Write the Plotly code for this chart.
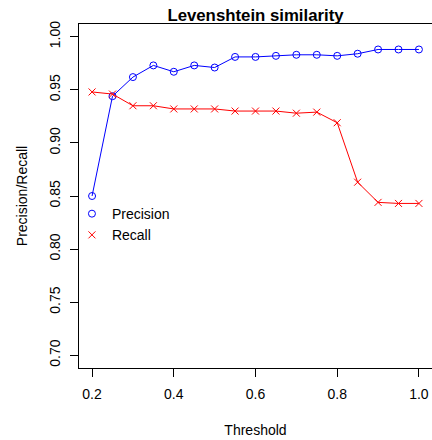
import plotly.graph_objects as go

threshold = [0.2, 0.25, 0.3, 0.35, 0.4, 0.45, 0.5, 0.55, 0.6, 0.65, 0.7, 0.75, 0.8, 0.85, 0.9, 0.95, 1.0]
precision = [0.850, 0.944, 0.962, 0.973, 0.967, 0.973, 0.971, 0.981, 0.981, 0.982, 0.983, 0.983, 0.982, 0.984, 0.988, 0.988, 0.988]
recall = [0.948, 0.946, 0.935, 0.935, 0.932, 0.932, 0.932, 0.930, 0.930, 0.930, 0.928, 0.929, 0.919, 0.863, 0.844, 0.843, 0.843]
x_ticks = [0.2, 0.4, 0.6, 0.8, 1.0]
x_tick_labels = ["0.2", "0.4", "0.6", "0.8", "1.0"]
y_ticks = [0.70, 0.75, 0.80, 0.85, 0.90, 0.95, 1.00]
y_tick_labels = ["0.70", "0.75", "0.80", "0.85", "0.90", "0.95", "1.00"]

FONT = "Liberation Sans, Arial, Helvetica, sans-serif"
BLUE = "#0000FF"
RED = "#FF0000"

fig = go.Figure()
fig.add_trace(go.Scatter(
    x=threshold, y=precision, mode="lines+markers", name="Precision", showlegend=False,
    line=dict(color=BLUE, width=1),
    marker=dict(symbol="circle-open", size=7, color=BLUE, line=dict(width=1, color=BLUE)),
))
fig.add_trace(go.Scatter(
    x=threshold, y=recall, mode="lines+markers", name="Recall", showlegend=False,
    line=dict(color=RED, width=1),
    marker=dict(symbol="x-thin-open", size=7, color=RED, line=dict(width=1, color=RED)),
))
# legend entries (symbols only, as in the reference)
fig.add_trace(go.Scatter(
    x=[None], y=[None], mode="markers", name="Precision",
    marker=dict(symbol="circle-open", size=7, color=BLUE, line=dict(width=1, color=BLUE)),
))
fig.add_trace(go.Scatter(
    x=[None], y=[None], mode="markers", name="Recall",
    marker=dict(symbol="x-thin-open", size=7, color=RED, line=dict(width=1, color=RED)),
))

fig.update_layout(
    width=432, height=440,
    margin=dict(l=79, r=0, t=24, b=72),
    paper_bgcolor="white", plot_bgcolor="white",
    font=dict(family=FONT, size=14, color="black"),
    title=dict(text="<b>Levenshtein similarity</b>", x=0.5915, xanchor="center",
               y=1 - 15 / 440, yanchor="middle", font=dict(size=16.8, family=FONT)),
    showlegend=True,
    legend=dict(x=-0.02, y=0.494, xanchor="left", yanchor="top",
                bgcolor="rgba(0,0,0,0)", font=dict(size=14, family=FONT),
                tracegroupgap=0),
)
fig.update_xaxes(
    range=[0.168, 1.032], tickvals=x_ticks, ticktext=x_tick_labels,
    showgrid=False, zeroline=False, showline=True, linecolor="black", linewidth=1,
    mirror=True, ticks="outside", ticklen=8, tickcolor="black", tickwidth=1,
    ticklabelstandoff=5,
    title=dict(text="Threshold", standoff=24, font=dict(size=14)),
)
fig.update_yaxes(
    range=[0.688, 1.012], tickvals=y_ticks, ticktext=y_tick_labels,
    showgrid=False, zeroline=False, showline=True, linecolor="black", linewidth=1,
    ticks="outside", ticklen=8, tickcolor="black", tickwidth=1, tickangle=-90,
    ticklabelstandoff=4,
    title=dict(text="Precision/Recall", standoff=16, font=dict(size=14)),
)

fig.write_html("out.html")
